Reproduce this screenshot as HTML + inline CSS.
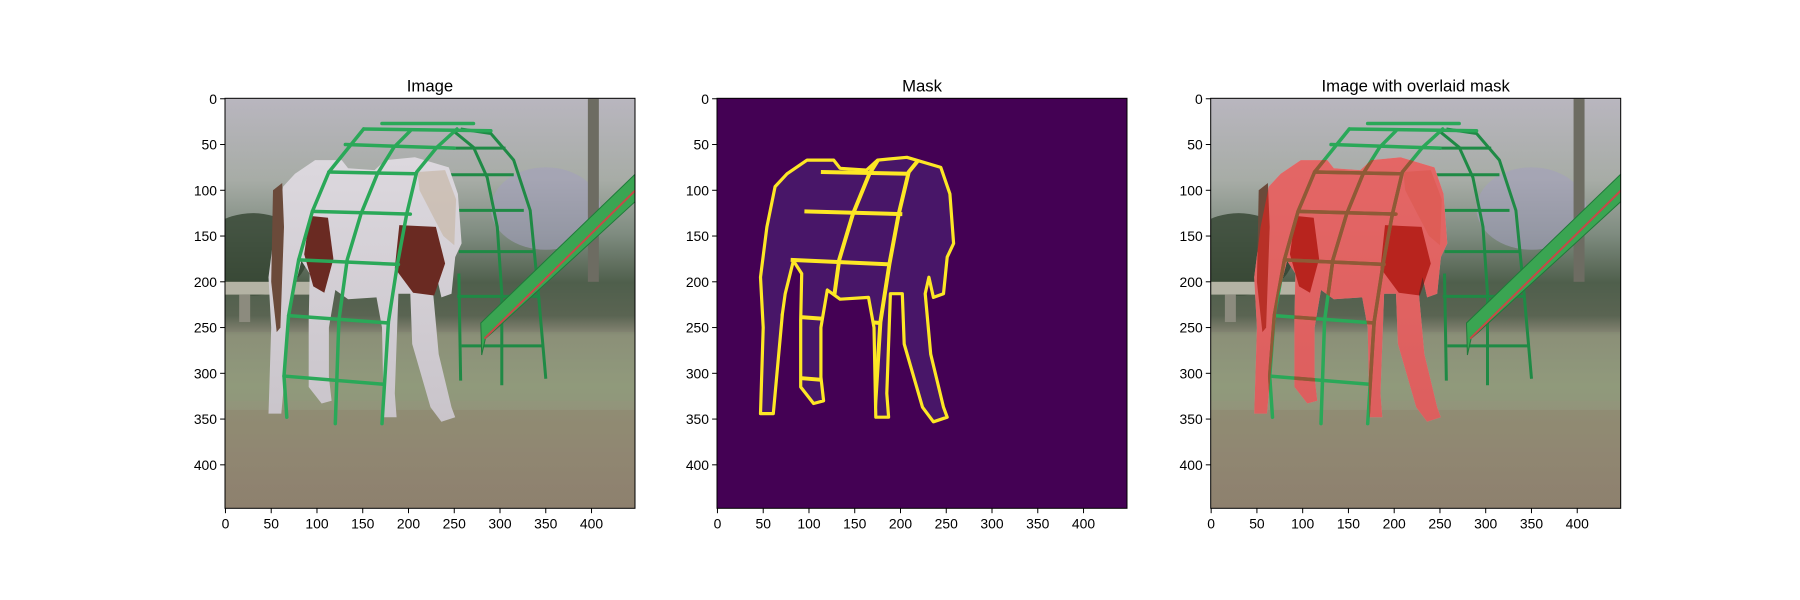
<!DOCTYPE html>
<html><head><meta charset="utf-8"><style>
html,body{margin:0;padding:0;background:#fff;width:1800px;height:600px;overflow:hidden}
svg{display:block;font-family:"Liberation Sans","DejaVu Sans",sans-serif}
</style></head><body>
<svg id="fig" width="1800" height="600" viewBox="0 0 1800 600" xmlns="http://www.w3.org/2000/svg">
<defs>
<linearGradient id="bgGrad" x1="0" y1="0" x2="0" y2="1">
<stop offset="0" stop-color="#b9b6bf"/><stop offset="0.2" stop-color="#a7aca6"/>
<stop offset="0.33" stop-color="#7f8c80"/><stop offset="0.45" stop-color="#4f5f4c"/>
<stop offset="0.53" stop-color="#5a6452"/><stop offset="0.58" stop-color="#8c8a78"/>
<stop offset="0.7" stop-color="#93987c"/><stop offset="1" stop-color="#8f8574"/>
</linearGradient>
<linearGradient id="horseGrad" x1="0" y1="0" x2="0" y2="1">
<stop offset="0" stop-color="#dcd8de"/><stop offset="1" stop-color="#c9c4ca"/>
</linearGradient>
</defs>
</svg>
<script>
// ---- data (image coordinates, 448x448 image) ----
const xTicks = [0,50,100,150,200,250,300,350,400];
const yTicks = [0,50,100,150,200,250,300,350,400];
const imgSize = 448;
const panelTitles = ["Image","Mask","Image with overlaid mask"];
const horseX = [47,50,47,54,63,76,98,127,134,163,175,207,244,254,258,251,247,236,231,227,233,247,251,236,224,204,202,189,185,187,173,171,165,134,120,113,113,116,105,91,91,92,83,74,71,61];
const horseY = [344,250,195,140,96,82,67,67,76,78,67,64,75,104,158,173,213,217,195,213,279,337,348,353,337,268,213,213,322,348,348,250,217,219,209,250,304,330,333,315,242,191,177,213,235,344];
const rungX1 = [171,151,131,113,95,80,69,64];
const rungY1 = [27,33,50,80,123,176,237,303];
const rungX2 = [271,290,250,208,202,189,178,173];
const rungY2 = [27,35,54,82,126,181,245,312];
const railLX = [151,113,95,80,69,64,67], railLY = [33,80,123,176,237,303,348];
const railMX = [202,184,166,148,133,124,120], railMY = [35,53,82,126,176,242,355];
const railRX = [253,231,209,198,188,178,171], railRY = [33,53,80,126,180,244,355];
const archOX = [257,290,315,333,342,350], archOY = [33,38,67,122,213,306];
const archIX = [249,271,286,297,302,302], archIY = [35,53,86,140,213,313];
const backRX1 = [249,246,253,255,253,258], backRX2 = [306,315,326,337,342,347];
const backRY = [54,83,122,167,216,270];
const slideX = [279,448,448,292,284,280], slideY = [245,82,112,255,262,280];
const patch1X = [92,112,118,108,96,86], patch1Y = [128,130,175,212,205,170];
const patch2X = [190,230,240,228,205,185], patch2Y = [138,140,180,215,212,185];

const panelLeft = [225,717,1210.7];
const panelTop = 98.3, panelSize = 410;
const NS = "http://www.w3.org/2000/svg";
const fig = document.getElementById('fig');
const k = panelSize/imgSize;
function mk(tag, attrs, parent){const e=document.createElementNS(NS,tag);for(const a in attrs)e.setAttribute(a,attrs[a]);parent.appendChild(e);return e;}

panelLeft.forEach((L,pi)=>{
  const sx = u => L + (u+0.5)*k;
  const sy = v => panelTop + (v+0.5)*k;
  const pts = (xs,ys)=>xs.map((x,i)=>sx(x).toFixed(1)+','+sy(ys[i]).toFixed(1)).join(' ');
  const g = mk('g',{},fig);
  
  
  const cp = mk('clipPath',{id:'clip'+pi},g);
  mk('rect',{x:L,y:panelTop,width:panelSize,height:panelSize},cp);
  const hc = mk('clipPath',{id:'hclip'+pi},g);
  mk('polygon',{points:pts(horseX,horseY)},hc);
  const img = mk('g',{'clip-path':'url(#clip'+pi+')'},g);
  
  
  if(pi===1){
    mk('rect',{x:L,y:panelTop,width:panelSize,height:panelSize,fill:'#440154'},img);
    const h = mk('polygon',{points:pts(horseX,horseY),fill:'#481668',stroke:'#fde725','stroke-width':3.2,'stroke-linejoin':'round'},img);
    
    
    const bars = mk('g',{'clip-path':'url(#hclip1)',stroke:'#fde725','stroke-width':4,fill:'none'},img);
    for(let i=3;i<rungX1.length;i++) mk('line',{x1:sx(rungX1[i]),y1:sy(rungY1[i]),x2:sx(rungX2[i]),y2:sy(rungY2[i])},bars);
    [[railMX,railMY],[railRX,railRY]].forEach(r=>mk('polyline',{points:pts(r[0],r[1])},bars));
  } else {
    mk('rect',{x:L,y:panelTop,width:panelSize,height:panelSize,fill:'url(#bgGrad)'},img);
    mk('ellipse',{cx:sx(350),cy:sy(120),rx:60*k,ry:45*k,fill:'#a4a0bc',opacity:0.6},img);
    mk('ellipse',{cx:sx(30),cy:sy(170),rx:60*k,ry:45*k,fill:'#334331',opacity:0.8},img);
    mk('rect',{x:sx(396),y:sy(0),width:12*k,height:200*k,fill:'#6d6c62'},img);
    mk('rect',{x:sx(0),y:sy(200),width:95*k,height:14*k,fill:'#b4b3a4'},img);
    mk('rect',{x:sx(15),y:sy(214),width:12*k,height:30*k,fill:'#8c8b7e'},img);
    mk('rect',{x:sx(0),y:sy(255),width:448*k,height:75*k,fill:'#8aa07a',opacity:0.3},img);
    mk('rect',{x:sx(0),y:sy(340),width:448*k,height:108*k,fill:'#8a6e5c',opacity:0.2},img);
    const back = mk('g',{stroke:'#1f8a45','stroke-width':3,fill:'none'},img);
    mk('polyline',{points:pts(archOX,archOY)},back);
    mk('polyline',{points:pts(archIX,archIY)},back);
    mk('line',{x1:sx(255),y1:sy(191),x2:sx(257),y2:sy(308)},back);
    backRY.forEach((y,i)=>mk('line',{x1:sx(backRX1[i]),y1:sy(y),x2:sx(backRX2[i]),y2:sy(y)},back));
    const sl = mk('polygon',{points:pts(slideX,slideY),fill:'#3aa552',stroke:'#1f7a3a','stroke-width':1},img);
    
    
    mk('line',{x1:sx(283),y1:sy(262),x2:sx(448),y2:sy(100),stroke:'#c84848','stroke-width':2},img);
    mk('polygon',{points:pts(horseX,horseY),fill:'url(#horseGrad)'},img);
    mk('polygon',{points:pts([52,62,64,60,56,50],[100,92,140,250,255,200]),fill:'#6b4a3a'},img);
    mk('polygon',{points:pts(patch1X,patch1Y),fill:'#6a2a22'},img);
    mk('polygon',{points:pts(patch2X,patch2Y),fill:'#6a2a22'},img);
    mk('polygon',{points:pts([210,240,252,250,238,225,212],[80,78,110,160,150,125,100]),fill:'#c8b8a8',opacity:0.7},img);
    const fr = mk('g',{stroke:'#2aa858','stroke-width':3.5,fill:'none','stroke-linecap':'round'},img);
    
    
    [[railLX,railLY],[railMX,railMY],[railRX,railRY]].forEach(r=>mk('polyline',{points:pts(r[0],r[1])},fr));
    rungX1.forEach((x,i)=>mk('line',{x1:sx(x),y1:sy(rungY1[i]),x2:sx(rungX2[i]),y2:sy(rungY2[i])},fr));
    if(pi===2){
      const ov = mk('polygon',{points:pts(horseX,horseY),fill:'#e8201c',opacity:0.62},img);
      
      
      const br = mk('g',{'clip-path':'url(#hclip2)',stroke:'#8e5a36','stroke-width':3.5,fill:'none'},img);
      [[railMX,railMY],[railRX,railRY],[railLX,railLY]].forEach(r=>mk('polyline',{points:pts(r[0],r[1])},br));
      rungX1.forEach((x,i)=>mk('line',{x1:sx(x),y1:sy(rungY1[i]),x2:sx(rungX2[i]),y2:sy(rungY2[i])},br));
    }
  }
  const fr2 = mk('rect',{x:L,y:panelTop,width:panelSize,height:panelSize,fill:'none',stroke:'#000','stroke-width':1},g);
  
  
  const B = panelTop+panelSize;
  xTicks.forEach(t=>{
    const x = sx(t);
    mk('line',{x1:x,y1:B,x2:x,y2:B+4.9,stroke:'#000','stroke-width':1},g);
    const tx = mk('text',{x:x,y:B+20,'font-size':13.9,'text-anchor':'middle',fill:'#000'},g);
    tx.textContent = t;
    
    
  });
  yTicks.forEach(t=>{
    const y = sy(t);
    mk('line',{x1:L,y1:y,x2:L-4.9,y2:y,stroke:'#000','stroke-width':1},g);
    const ty = mk('text',{x:L-8,y:y+5,'font-size':13.9,'text-anchor':'end',fill:'#000'},g);
    ty.textContent = t;
    
    
  });
  const tt = mk('text',{x:L+panelSize/2,y:panelTop-7,'font-size':16.7,'text-anchor':'middle',fill:'#000'},g);
  tt.textContent = panelTitles[pi];
  
  
});
</script>
</body></html>
